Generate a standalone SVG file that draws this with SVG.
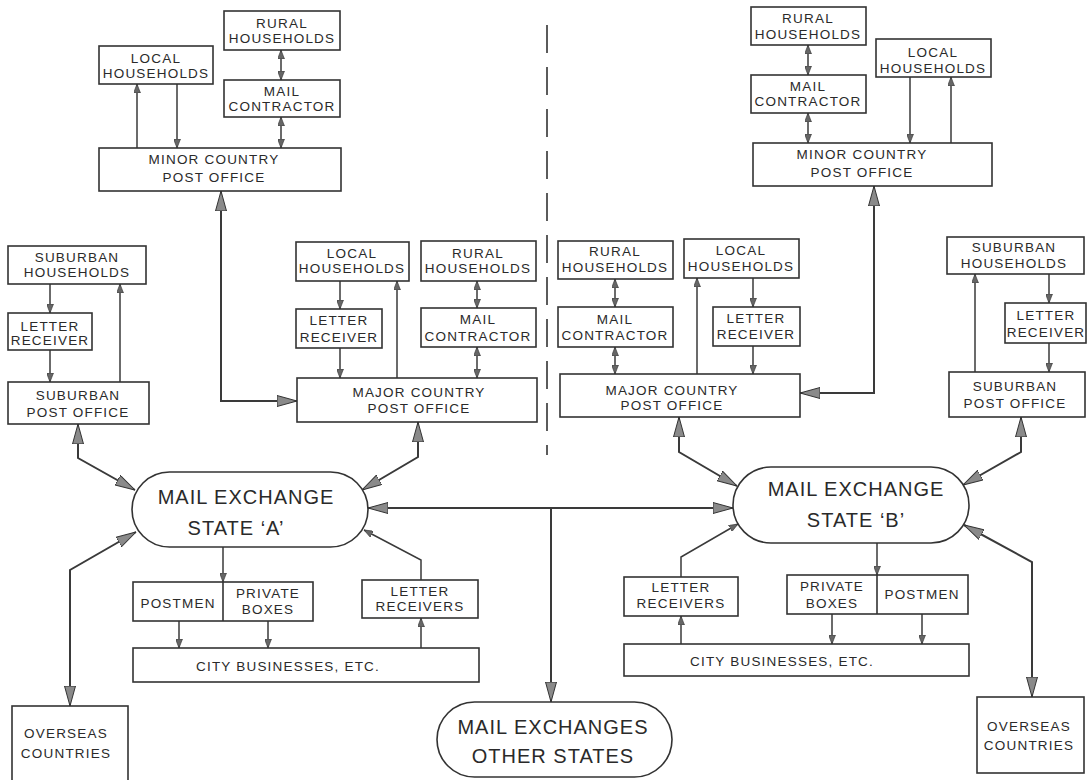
<svg xmlns="http://www.w3.org/2000/svg" width="1088" height="780" viewBox="0 0 1088 780">
<style>
.box{fill:#fff;stroke:#333;stroke-width:1.6}
.t{font-family:"Liberation Sans",Arial,sans-serif;font-size:13.5px;letter-spacing:1.2px;fill:#2a2a2a;text-anchor:middle}
.tb{font-size:20px;letter-spacing:1px}
.c{fill:none;stroke:#3a3a3a;stroke-width:1.5}
.cb{stroke-width:2}
.s{marker-end:url(#as)}
.sd{marker-start:url(#as);marker-end:url(#as)}
.b{marker-end:url(#ab)}
.bd{marker-start:url(#ab);marker-end:url(#ab)}
.dash{fill:none;stroke:#333;stroke-width:1.6;stroke-dasharray:28 14}
</style>
<defs>
<marker id="ab" viewBox="0 0 20 12" refX="20" refY="6" markerWidth="20" markerHeight="12" markerUnits="userSpaceOnUse" orient="auto-start-reverse"><path d="M0,0.5 L20,6 L0,11.5 Z" fill="#8a8a8a" stroke="#333" stroke-width="1"/></marker>
<marker id="as" viewBox="0 0 9 7" refX="9" refY="3.5" markerWidth="9" markerHeight="7" markerUnits="userSpaceOnUse" orient="auto-start-reverse"><path d="M0,0 L9,3.5 L0,7 Z" fill="#666" stroke="#333" stroke-width="0.6"/></marker>
</defs>
<rect width="1088" height="780" fill="#fff"/>
<path class="dash" d="M547,25 V455"/>

<g id="connectors">
<path class="c s" d="M137,148 V84"/>
<path class="c s" d="M177,84 V148"/>
<path class="c sd" d="M281,50 V80"/>
<path class="c sd" d="M281,117 V148"/>
<path class="c cb bd" d="M221,191 V401 H297"/>
<path class="c s" d="M50,284 V313"/>
<path class="c s" d="M50,350 V382"/>
<path class="c s" d="M120,382 V284"/>
<path class="c cb bd" d="M78,424 V458 L135,490"/>
<path class="c s" d="M340,281 V309"/>
<path class="c s" d="M340,348 V378"/>
<path class="c s" d="M397,378 V281"/>
<path class="c sd" d="M477,281 V308"/>
<path class="c sd" d="M477,347 V378"/>
<path class="c cb bd" d="M418,422 V457 L362,490"/>
<path class="c cb bd" d="M368,508 H733"/>
<path class="c cb b" d="M551,508 V702"/>
<path class="c s" d="M223,547 V582"/>
<path class="c s" d="M179,621 V648"/>
<path class="c s" d="M268,621 V648"/>
<path class="c s" d="M421,648 V618"/>
<path class="c s" d="M421,580 V560 L364,530"/>
<path class="c cb bd" d="M136,532 L70,570 V706"/>
<path class="c sd" d="M808,45 V75"/>
<path class="c sd" d="M808,113 V143"/>
<path class="c s" d="M910,77 V143"/>
<path class="c s" d="M951,143 V77"/>
<path class="c cb bd" d="M874,186 V393 H800"/>
<path class="c sd" d="M615,279 V307"/>
<path class="c sd" d="M615,347 V374"/>
<path class="c s" d="M697,374 V278"/>
<path class="c s" d="M753,278 V307"/>
<path class="c s" d="M753,346 V374"/>
<path class="c cb bd" d="M679,417 V452 L737,486"/>
<path class="c s" d="M975,372 V274"/>
<path class="c s" d="M1049,274 V303"/>
<path class="c s" d="M1049,343 V372"/>
<path class="c cb bd" d="M1021,417 V452 L963,485"/>
<path class="c s" d="M877,543 V575"/>
<path class="c s" d="M681,644 V616"/>
<path class="c s" d="M832,614 V644"/>
<path class="c s" d="M922,614 V644"/>
<path class="c s" d="M681,577 V557 L738,524"/>
<path class="c cb bd" d="M964,525 L1032,562 V697"/>
</g>

<g id="a-minor-local"><rect class="box" x="99" y="46" width="114" height="38"/><text class="t"><tspan x="156" y="63">LOCAL</tspan><tspan x="156" y="78">HOUSEHOLDS</tspan></text></g>
<g id="a-minor-rural"><rect class="box" x="224" y="11" width="116" height="39"/><text class="t"><tspan x="282" y="28">RURAL</tspan><tspan x="282" y="43">HOUSEHOLDS</tspan></text></g>
<g id="a-minor-mail"><rect class="box" x="224" y="80" width="116" height="37"/><text class="t"><tspan x="282" y="96">MAIL</tspan><tspan x="282" y="111">CONTRACTOR</tspan></text></g>
<g id="a-minor-po"><rect class="box" x="99" y="148" width="242" height="43"/><text class="t"><tspan x="214" y="164">MINOR COUNTRY</tspan><tspan x="214" y="182">POST OFFICE</tspan></text></g>

<g id="a-sub-hh"><rect class="box" x="8" y="246" width="138" height="38"/><text class="t"><tspan x="77" y="262">SUBURBAN</tspan><tspan x="77" y="277">HOUSEHOLDS</tspan></text></g>
<g id="a-sub-lr"><rect class="box" x="8" y="313" width="84" height="37"/><text class="t"><tspan x="50" y="331">LETTER</tspan><tspan x="50" y="345">RECEIVER</tspan></text></g>
<g id="a-sub-po"><rect class="box" x="8" y="382" width="141" height="42"/><text class="t"><tspan x="78" y="400">SUBURBAN</tspan><tspan x="78" y="417">POST OFFICE</tspan></text></g>

<g id="a-major-local"><rect class="box" x="296" y="242" width="113" height="39"/><text class="t"><tspan x="352" y="258">LOCAL</tspan><tspan x="352" y="273">HOUSEHOLDS</tspan></text></g>
<g id="a-major-rural"><rect class="box" x="421" y="241" width="115" height="40"/><text class="t"><tspan x="478" y="258">RURAL</tspan><tspan x="478" y="273">HOUSEHOLDS</tspan></text></g>
<g id="a-major-lr"><rect class="box" x="296" y="309" width="86" height="39"/><text class="t"><tspan x="339" y="325">LETTER</tspan><tspan x="339" y="342">RECEIVER</tspan></text></g>
<g id="a-major-mail"><rect class="box" x="421" y="308" width="115" height="39"/><text class="t"><tspan x="478" y="324">MAIL</tspan><tspan x="478" y="341">CONTRACTOR</tspan></text></g>
<g id="a-major-po"><rect class="box" x="297" y="378" width="240" height="44"/><text class="t"><tspan x="419" y="397">MAJOR COUNTRY</tspan><tspan x="419" y="413">POST OFFICE</tspan></text></g>

<g id="exchange-a"><rect class="box" x="132" y="472" width="236" height="75" rx="37.5"/><text class="t tb"><tspan x="246" y="504">MAIL EXCHANGE</tspan><tspan x="236" y="535">STATE ‘A’</tspan></text></g>
<g id="a-postmen-boxes"><rect class="box" x="133" y="582" width="180" height="39"/><path d="M223,582 V621" stroke="#333" stroke-width="1.6"/><text class="t"><tspan x="178" y="608">POSTMEN</tspan></text><text class="t"><tspan x="268" y="598">PRIVATE</tspan><tspan x="268" y="614">BOXES</tspan></text></g>
<g id="a-letter-receivers"><rect class="box" x="362" y="580" width="116" height="38"/><text class="t"><tspan x="420" y="596">LETTER</tspan><tspan x="420" y="611">RECEIVERS</tspan></text></g>
<g id="a-city"><rect class="box" x="133" y="648" width="346" height="34"/><text class="t" x="288" y="671">CITY BUSINESSES, ETC.</text></g>
<g id="a-overseas"><rect class="box" x="12" y="706" width="116" height="80"/><text class="t"><tspan x="66" y="738">OVERSEAS</tspan><tspan x="66" y="758">COUNTRIES</tspan></text></g>

<g id="other-states"><rect class="box" x="437" y="702" width="235" height="75" rx="37.5"/><text class="t tb"><tspan x="553" y="734">MAIL EXCHANGES</tspan><tspan x="553" y="763">OTHER STATES</tspan></text></g>

<g id="b-minor-rural"><rect class="box" x="751" y="7" width="115" height="38"/><text class="t"><tspan x="808" y="23">RURAL</tspan><tspan x="808" y="39">HOUSEHOLDS</tspan></text></g>
<g id="b-minor-mail"><rect class="box" x="751" y="75" width="115" height="38"/><text class="t"><tspan x="808" y="91">MAIL</tspan><tspan x="808" y="106">CONTRACTOR</tspan></text></g>
<g id="b-minor-local"><rect class="box" x="876" y="39" width="115" height="38"/><text class="t"><tspan x="933" y="57">LOCAL</tspan><tspan x="933" y="73">HOUSEHOLDS</tspan></text></g>
<g id="b-minor-po"><rect class="box" x="753" y="143" width="239" height="43"/><text class="t"><tspan x="862" y="159">MINOR COUNTRY</tspan><tspan x="862" y="177">POST OFFICE</tspan></text></g>

<g id="b-major-rural"><rect class="box" x="558" y="241" width="115" height="38"/><text class="t"><tspan x="615" y="256">RURAL</tspan><tspan x="615" y="272">HOUSEHOLDS</tspan></text></g>
<g id="b-major-local"><rect class="box" x="684" y="239" width="115" height="39"/><text class="t"><tspan x="741" y="255">LOCAL</tspan><tspan x="741" y="271">HOUSEHOLDS</tspan></text></g>
<g id="b-major-mail"><rect class="box" x="558" y="307" width="115" height="40"/><text class="t"><tspan x="615" y="324">MAIL</tspan><tspan x="615" y="340">CONTRACTOR</tspan></text></g>
<g id="b-major-lr"><rect class="box" x="713" y="307" width="87" height="39"/><text class="t"><tspan x="756" y="323">LETTER</tspan><tspan x="756" y="339">RECEIVER</tspan></text></g>
<g id="b-major-po"><rect class="box" x="560" y="374" width="240" height="43"/><text class="t"><tspan x="672" y="395">MAJOR COUNTRY</tspan><tspan x="672" y="410">POST OFFICE</tspan></text></g>

<g id="b-sub-hh"><rect class="box" x="947" y="237" width="137" height="37"/><text class="t"><tspan x="1014" y="252">SUBURBAN</tspan><tspan x="1014" y="268">HOUSEHOLDS</tspan></text></g>
<g id="b-sub-lr"><rect class="box" x="1005" y="303" width="81" height="40"/><text class="t"><tspan x="1046" y="320">LETTER</tspan><tspan x="1046" y="337">RECEIVER</tspan></text></g>
<g id="b-sub-po"><rect class="box" x="949" y="372" width="136" height="45"/><text class="t"><tspan x="1015" y="391">SUBURBAN</tspan><tspan x="1015" y="408">POST OFFICE</tspan></text></g>

<g id="exchange-b"><rect class="box" x="733" y="467" width="236" height="76" rx="38"/><text class="t tb"><tspan x="856" y="496">MAIL EXCHANGE</tspan><tspan x="856" y="527">STATE ‘B’</tspan></text></g>
<g id="b-letter-receivers"><rect class="box" x="624" y="577" width="114" height="39"/><text class="t"><tspan x="681" y="592">LETTER</tspan><tspan x="681" y="608">RECEIVERS</tspan></text></g>
<g id="b-boxes-postmen"><rect class="box" x="787" y="575" width="181" height="39"/><path d="M877,575 V614" stroke="#333" stroke-width="1.6"/><text class="t"><tspan x="832" y="591">PRIVATE</tspan><tspan x="832" y="608">BOXES</tspan></text><text class="t"><tspan x="922" y="599">POSTMEN</tspan></text></g>
<g id="b-city"><rect class="box" x="624" y="644" width="345" height="32"/><text class="t" x="782" y="666">CITY BUSINESSES, ETC.</text></g>
<g id="b-overseas"><rect class="box" x="977" y="697" width="107" height="76"/><text class="t"><tspan x="1029" y="731">OVERSEAS</tspan><tspan x="1029" y="750">COUNTRIES</tspan></text></g>
</svg>
